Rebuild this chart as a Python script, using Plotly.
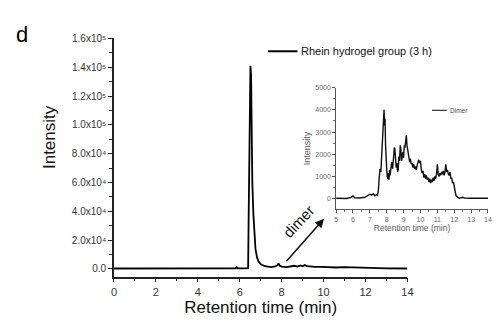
import plotly.graph_objects as go

# ---- data ----
main_time = [0.0, 1.0, 2.0, 3.0, 4.0, 5.0, 5.8, 5.85, 5.9, 6.2, 6.40, 6.42, 6.45, 6.48,
             6.51, 6.54, 6.57, 6.60, 6.65, 6.70, 6.75, 6.82, 6.90, 7.0, 7.1, 7.2, 7.35,
             7.5, 7.7, 7.8, 7.85, 7.9, 8.0, 8.2, 8.4, 8.6, 8.75, 8.9, 9.0, 9.1, 9.2, 9.4,
             9.6, 9.9, 10.2, 10.6, 11.0, 11.3, 11.6, 11.9, 12.1, 12.5, 13.0, 14.0]
main_int = [200, 200, 200, 250, 200, 250, 300, 1200, 300, 250, 400, 30000, 74000, 110000,
            141000, 135000, 95000, 60000, 38000, 24000, 14000, 8000, 5000, 3200, 2400, 1800,
            1500, 1200, 1600, 2500, 3800, 2200, 1500, 1200, 1600, 2100, 1500, 2300, 1700,
            2600, 1800, 1500, 1300, 1400, 1000, 900, 1200, 1000, 1300, 900, 500, 300, 250, 200]

inset_time = [5.0, 5.3, 5.6, 5.9, 6.0, 6.1, 6.4, 6.7, 6.9, 7.0, 7.1, 7.2, 7.3, 7.4, 7.45,
              7.5, 7.55, 7.6, 7.65, 7.7, 7.75, 7.8, 7.84, 7.87, 7.9, 7.93, 7.96, 8.0, 8.03,
              8.07, 8.1, 8.13, 8.17, 8.2, 8.25, 8.3, 8.35, 8.4, 8.45, 8.48, 8.52, 8.56, 8.6,
              8.64, 8.68, 8.72, 8.76, 8.8, 8.84, 8.88, 8.92, 8.96, 9.0, 9.04, 9.08, 9.12,
              9.16, 9.2, 9.24, 9.28, 9.32, 9.36, 9.4, 9.45, 9.5, 9.55, 9.6, 9.65, 9.7, 9.75,
              9.8, 9.85, 9.9, 9.95, 10.0, 10.05, 10.1, 10.15, 10.2, 10.25, 10.3, 10.35, 10.4,
              10.45, 10.5, 10.55, 10.6, 10.65, 10.7, 10.75, 10.8, 10.85, 10.9, 10.95, 11.0,
              11.05, 11.1, 11.15, 11.2, 11.25, 11.3, 11.35, 11.4, 11.45, 11.5, 11.55, 11.6,
              11.65, 11.7, 11.75, 11.8, 11.85, 11.9, 11.95, 12.0, 12.05, 12.1, 12.2, 12.3,
              12.5, 12.6, 13.0, 13.5, 14.0]
inset_int = [20, 30, 10, 60, 120, 40, 30, 60, 150, 200, 160, 220, 130, 180, 150,
             350, 900, 1350, 1200, 1800, 2500, 3300, 4000, 3300, 3600, 2400, 1600, 1300, 1000,
             900, 1150, 850, 1300, 1050, 1400, 1650, 1350, 1900, 2300, 2250, 1700, 1400, 1600,
             1200, 1300, 1900, 1700, 2400, 2200, 1700, 1900, 2100, 1850, 2400, 2300, 2700,
             2850, 2400, 2200, 1900, 1750, 1650, 1800, 1550, 1600, 1400, 1550, 1350, 1450, 1300,
             1500, 1650, 1750, 1600, 1700, 1300, 1150, 1250, 950, 1100, 900, 1050, 850,
             950, 750, 900, 700, 850, 750, 950, 800, 1000, 900, 1100, 1550,
             1100, 1000, 1150, 1050, 1200, 1100, 1250, 1050, 1200, 1550, 1200, 1300,
             1100, 1050, 1200, 900, 950, 700, 750, 500, 300, 150, 60, 20,
             60, 30, 20, 15, 20]

main_y_tickvals = [0, 20000, 40000, 60000, 80000, 100000, 120000, 140000, 160000]
main_y_ticktext = ["0.0", "2.0x10\u2074", "4.0x10\u2074", "6.0x10\u2074",
                   "8.0x10\u2074", "1.0x10\u2075", "1.2x10\u2075",
                   "1.4x10\u2075", "1.6x10\u2075"]
main_x_tickvals = [0, 2, 4, 6, 8, 10, 12, 14]
inset_x_tickvals = [5, 6, 7, 8, 9, 10, 11, 12, 13, 14]
inset_y_tickvals = [0, 1000, 2000, 3000, 4000, 5000]

W, H = 494, 322
FONT = "Liberation Sans, Arial, sans-serif"

def px(x):
    return x / W

def py(y):
    return 1 - y / H

fig = go.Figure()
fig.add_trace(go.Scatter(x=main_time, y=main_int, mode="lines",
                         line=dict(color="#000", width=1.8), xaxis="x", yaxis="y",
                         showlegend=False))
fig.add_trace(go.Scatter(x=inset_time, y=inset_int, mode="lines",
                         line=dict(color="#111", width=1.4), xaxis="x2", yaxis="y2",
                         showlegend=False))

axis_common = dict(showgrid=False, zeroline=False, showline=True, ticks="outside",
                   mirror=False)

fig.update_layout(
    width=W, height=H,
    margin=dict(l=0, r=0, t=0, b=0),
    paper_bgcolor="white", plot_bgcolor="rgba(0,0,0,0)",
    font=dict(family=FONT, color="#222"),
    xaxis=dict(**axis_common, domain=[px(113), px(412)], range=[0, 14],
               tickvals=main_x_tickvals, ticklen=4, tickwidth=1.3, linewidth=1.5,
               linecolor="#222", tickcolor="#222",
               minor=dict(dtick=1, ticks="outside", ticklen=3, tickcolor="#222"),
               tickfont=dict(size=11, color="#333"),
               title=dict(text="Retention time (min)", font=dict(size=17, color="#111"),
                          standoff=4),
               anchor="y"),
    yaxis=dict(**axis_common, domain=[py(276), py(34)], range=[-5500, 160000],
               tickvals=main_y_tickvals, ticktext=main_y_ticktext, ticklen=4,
               tickwidth=1.3, linewidth=1.5, linecolor="#222", tickcolor="#222",
               minor=dict(dtick=10000, ticks="outside", ticklen=3, tickcolor="#222"),
               tickfont=dict(size=10, color="#333"),
               anchor="x"),
    xaxis2=dict(**axis_common, domain=[px(339.3), 1.0], range=[5, 14.0],
                tickvals=inset_x_tickvals, ticklen=3, tickwidth=0.8, linewidth=0.8,
                linecolor="#555", tickcolor="#555",
                minor=dict(dtick=0.5, ticks="outside", ticklen=2, tickcolor="#777"),
                tickfont=dict(size=7, color="#666"),
                title=dict(text="Retention time (min)", font=dict(size=8.5, color="#555"),
                           standoff=1),
                anchor="y2"),
    yaxis2=dict(**axis_common, domain=[py(207.7), py(84)], range=[-488, 5000],
                tickvals=inset_y_tickvals, ticklen=3, tickwidth=0.8, linewidth=0.8,
                linecolor="#555", tickcolor="#555",
                minor=dict(dtick=500, ticks="outside", ticklen=2, tickcolor="#777"),
                tickfont=dict(size=7, color="#666"),
                title=dict(text="Intensity", font=dict(size=9, color="#555"), standoff=3),
                anchor="x2"),
)

# main y-axis title (placed to match reference)
fig.add_annotation(xref="paper", yref="paper", x=px(48), y=py(134), text="Intensity",
                   textangle=-90, showarrow=False, xanchor="center", yanchor="middle",
                   font=dict(size=17, color="#111"))

# legends (drawn manually)
fig.add_shape(type="line", xref="paper", yref="paper", x0=px(270), x1=px(300),
              y0=py(47), y1=py(47), line=dict(color="#000", width=2))
fig.add_annotation(xref="paper", yref="paper", x=px(302), y=py(47), xanchor="left",
                   yanchor="middle", text="Rhein hydrogel group (3 h)", showarrow=False,
                   font=dict(size=11, color="#111"))
fig.add_shape(type="line", xref="paper", yref="paper", x0=px(437), x1=px(452),
              y0=py(107), y1=py(107), line=dict(color="#333", width=1.2))
fig.add_annotation(xref="paper", yref="paper", x=px(453), y=py(107), xanchor="left",
                   yanchor="middle", text="Dimer", showarrow=False,
                   font=dict(size=6.5, color="#444"))

# panel letter
fig.add_annotation(xref="paper", yref="paper", x=px(11), y=py(30), xanchor="left",
                   yanchor="middle", text="d", showarrow=False,
                   font=dict(size=22, color="#000"))

# dimer arrow + label
fig.add_annotation(xref="paper", yref="paper", x=px(327), y=py(217), ax=-39, ay=44,
                   text="", showarrow=True,
                   arrowhead=2, arrowsize=1.2, arrowwidth=1.5, arrowcolor="#111")
fig.add_annotation(xref="paper", yref="paper", x=px(301), y=py(243), text="dimer",
                   textangle=-47, showarrow=False, font=dict(size=15, color="#111"))

fig.write_html("out.html")
